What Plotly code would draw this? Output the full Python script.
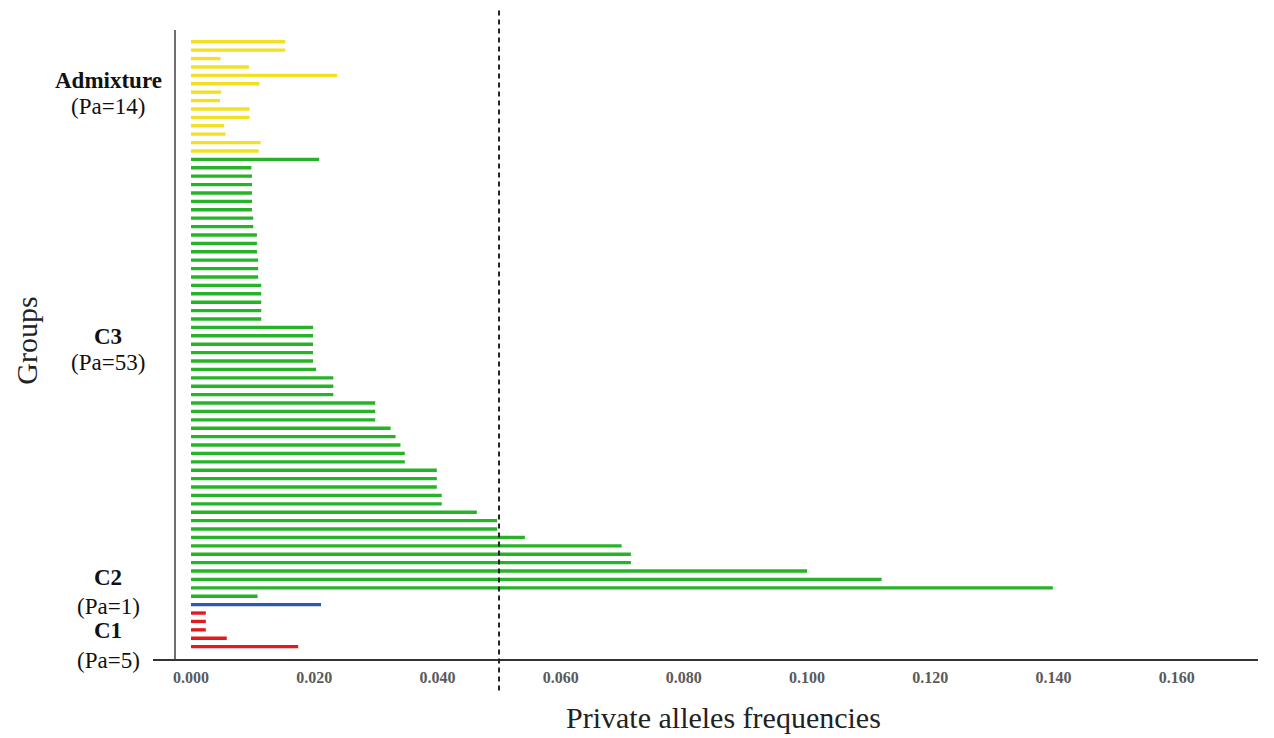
import plotly.graph_objects as go

# ---- data (listed top-to-bottom within each group) ----
groups = ["C1", "C2", "C3", "Admixture"]
group_pa = [5, 1, 53, 14]
colors = {"C1": "#E2191F", "C2": "#2A5CAA", "C3": "#27B327", "Admixture": "#F2E024"}

admixture_vals = [0.0153, 0.0153, 0.0048, 0.0094, 0.0237, 0.0111, 0.0049,
                  0.0047, 0.0095, 0.0095, 0.0054, 0.0056, 0.0113, 0.0110]
c3_vals = [0.0208, 0.0098, 0.0099, 0.0099, 0.0099, 0.0099, 0.0099, 0.0101, 0.0101,
           0.0107, 0.0107, 0.0107, 0.0109, 0.0109, 0.0109, 0.0114, 0.0114, 0.0114,
           0.0114, 0.0114, 0.0198, 0.0198, 0.0198, 0.0198, 0.0198, 0.0203, 0.0231,
           0.0231, 0.0231, 0.0299, 0.0299, 0.0299, 0.0324, 0.0332, 0.0340, 0.0347,
           0.0347, 0.0399, 0.0399, 0.0399, 0.0407, 0.0407, 0.0464, 0.0497, 0.0497,
           0.0542, 0.0699, 0.0714, 0.0714, 0.1000, 0.1121, 0.1399, 0.0108]
c2_vals = [0.0211]
c1_vals = [0.0024, 0.0024, 0.0024, 0.0058, 0.0174]

threshold = 0.05
x_ticks = [0.000, 0.020, 0.040, 0.060, 0.080, 0.100, 0.120, 0.140, 0.160]

group_vals = {"C1": c1_vals, "C2": c2_vals, "C3": c3_vals, "Admixture": admixture_vals}

fig = go.Figure()
row = 0
for g in groups:
    vals = list(reversed(group_vals[g]))  # bottom-to-top
    ys = list(range(row, row + len(vals)))
    row += len(vals)
    fig.add_trace(go.Bar(x=vals, y=ys, orientation="h", width=0.4,
                         marker=dict(color=colors[g], line=dict(width=0)),
                         name=g, showlegend=False))

n_rows = row
serif = "Liberation Serif, Times New Roman, serif"

# group label positions (paper fractions of the plot height)
label_pos = {"Admixture": (0.920, 0.879), "C3": (0.512, 0.472),
             "C2": (0.129, 0.083), "C1": (0.045, -0.002)}
annotations = []
for g, pa in zip(groups, group_pa):
    y1, y2 = label_pos[g]
    annotations.append(dict(text="<b>%s</b>" % g, x=-0.0407, xref="paper", y=y1, yref="paper",
                            xanchor="center", yanchor="middle", showarrow=False,
                            font=dict(family=serif, size=23, color="#111")))
    annotations.append(dict(text="(Pa=%d)" % pa, x=-0.0407, xref="paper", y=y2, yref="paper",
                            xanchor="center", yanchor="middle", showarrow=False,
                            font=dict(family=serif, size=23, color="#111")))

annotations.append(dict(text="Private alleles frequencies", x=0.516, xref="paper",
                        y=-0.093, yref="paper", xanchor="center", yanchor="middle",
                        showarrow=False, font=dict(family=serif, size=30, color="#222")))
annotations.append(dict(text="Groups", x=-0.114, xref="paper", y=0.506, yref="paper",
                        xanchor="center", yanchor="middle", textangle=-90,
                        showarrow=False, font=dict(family=serif, size=30, color="#222")))

shapes = [
    dict(type="line", xref="x", yref="paper", x0=-0.0026, x1=-0.0026, y0=0, y1=1.0,
         line=dict(color="#222", width=1.3)),
    dict(type="line", xref="x", yref="paper", x0=threshold, x1=threshold, y0=-0.05, y1=1.035,
         line=dict(color="#222", width=2, dash="5px,4px")),
]

fig.update_layout(
    width=1274, height=738,
    margin=dict(l=153, r=16, t=30, b=79),
    paper_bgcolor="white", plot_bgcolor="white",
    annotations=annotations,
    shapes=shapes,
    xaxis=dict(range=[-0.00617, 0.1732], tickvals=x_ticks, tickformat=".3f",
               showline=True, linecolor="#333", linewidth=1.5, showgrid=False,
               zeroline=False, ticks="outside", ticklen=3, tickcolor="rgba(0,0,0,0)",
               tickfont=dict(family=serif, size=16, color="#5a5a5a", weight="bold")),
    yaxis=dict(range=[-1.47, n_rows + 0.4], showticklabels=False, showgrid=False,
               zeroline=False, showline=False, ticks=""),
)

fig.write_html("out.html")
